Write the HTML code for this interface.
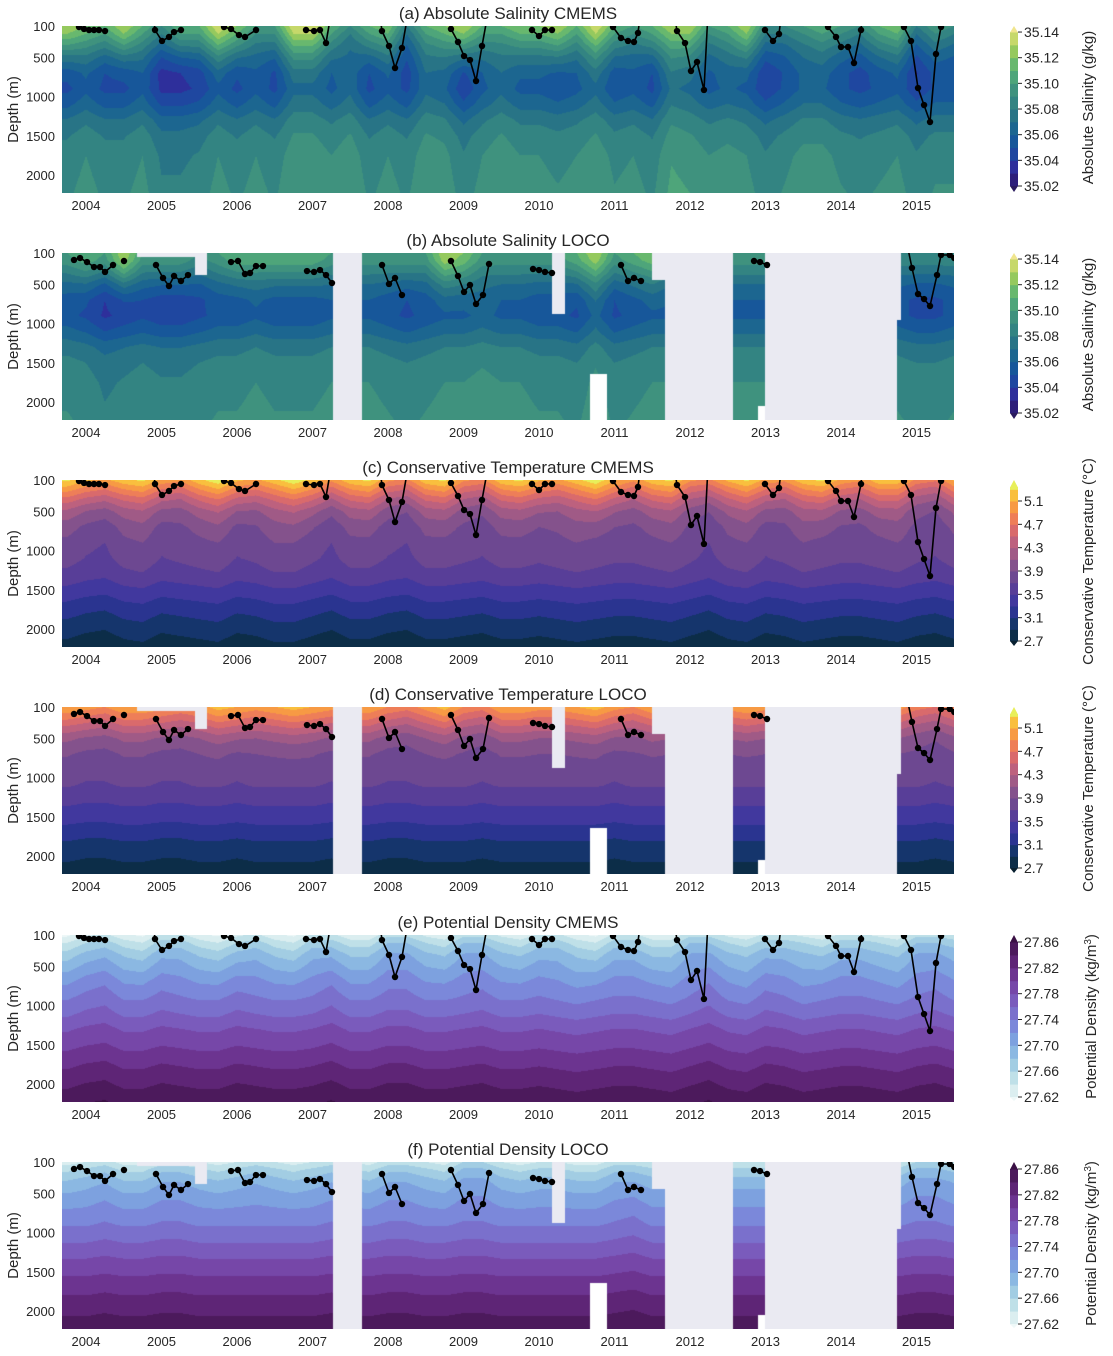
<!DOCTYPE html>
<html><head><meta charset="utf-8">
<style>
html,body{margin:0;padding:0;background:#fff;}
#wrap{position:relative;width:1113px;height:1356px;overflow:hidden;font-family:"Liberation Sans",sans-serif;}
canvas{position:absolute;}
svg{position:absolute;left:0;top:0;}
</style></head>
<body>
<div id="wrap">
<svg id="ov" width="1113" height="1356"></svg>
</div>
<script>
// ---------- data ----------
const depthLevels=[100,200,350,500,700,900,1100,1300,1500,1750,2000,2230];
const upperWeight=[1,1,0.8,0.5,0.2,0,0,0,0,0,0,0];
const deepWeight=[0,0,0.2,0.6,1,1,0.9,0.7,0.6,0.6,0.6,0.6];
const timeStart=2003.75, timeStep=0.25;
const yearTicks=[2004,2005,2006,2007,2008,2009,2010,2011,2012,2013,2014,2015];
const depthTicks=[100,500,1000,1500,2000];

const salProfileC=[35.11,35.10,35.085,35.072,35.06,35.057,35.066,35.078,35.085,35.09,35.092,35.094];
const salProfileL=[35.10,35.095,35.082,35.07,35.06,35.058,35.068,35.08,35.086,35.09,35.092,35.094];
const salUpperC=[0.02,0.01,0,0.02, 0,-0.02,0,0, 0.03,0.01,-0.01,-0.01, 0.03,0.03,0,-0.02, 0,0.01,-0.03,0, 0.01,0.02,0,0, 0.01,0.01,0.02,0, 0.03,0,-0.01,0, 0.02,0.02,-0.01,0, 0.02,-0.02,-0.02,-0.01, 0,-0.01,-0.02,0, 0.01,-0.03,-0.01,-0.02];
const salDeepC=[-0.01,0,-0.01,-0.01, 0,-0.02,-0.02,-0.015, 0,-0.01,0,-0.01, 0.01,0.01,0,0.01, -0.01,0,-0.01,0.01, 0.005,-0.015,0,0.01, 0,0,-0.005,0, 0.01,-0.005,0,-0.01, 0.015,0.01,0,0.005, 0,-0.015,-0.005,0.005, 0.005,-0.005,-0.01,-0.005, 0,-0.015,-0.005,-0.005];
const salUpperL=[0,0.01,0,0.03, 0,0,0,-0.01, 0,0.01,0.01,0.01, 0.01,0.01,0,0, 0,0,0,0, 0.03,0.02,0,0, 0,0,0,0.01, 0.03,0,0.01,0.02, 0,0,0,0, 0,0,0,0, 0,0,0,0, -0.01,-0.01,-0.01,-0.01];
const salDeepL=[-0.005,-0.01,-0.02,-0.015, -0.01,-0.015,-0.015,-0.01, -0.005,-0.005,0,-0.005, -0.005,-0.005,0,0, 0,-0.005,-0.01,-0.005, 0,0,0.005,0, 0,-0.005,-0.005,-0.01, 0.005,-0.01,-0.005,0, 0,0,0,0, 0,0,0,0, 0,0,0,0, -0.005,-0.01,-0.01,-0.005];

const tempProfileC=[5.15,4.85,4.45,4.15,3.95,3.85,3.78,3.65,3.45,3.2,3.0,2.82];
const tempProfileL=[5.0,4.75,4.4,4.1,3.9,3.82,3.72,3.55,3.4,3.15,2.95,2.8];
const tempUpperC=[0.2,0,-0.1,0.1, 0.2,-0.1,-0.2,0.1, 0.3,0,-0.1,0.1, 0.3,0.1,-0.2,0.1, 0.2,-0.2,-0.3,0.1, 0.2,-0.2,-0.3,0.1, 0.2,0,-0.1,0.1, 0.3,0,-0.2,0.1, 0.2,-0.2,-0.3,0, 0.2,-0.1,-0.2,0.1, 0.2,-0.1,-0.2,0.1, 0.1,-0.3,-0.4,0];
const tempDeepC=[0,-0.1,-0.15,0, 0.05,-0.1,-0.05,0, 0.05,-0.1,-0.05,0.05, 0.05,-0.05,-0.15,0, 0,-0.1,-0.15,0, 0,-0.05,-0.1,0, 0,-0.05,0,0.05, 0,-0.05,-0.05,0, 0.05,-0.05,-0.15,0, 0.05,-0.1,-0.05,0.05, 0,-0.05,-0.05,0, 0.05,-0.05,-0.1,0];
const tempUpperL=[0.1,0,-0.1,0.1, 0.1,0,-0.1,0, 0.2,0.1,0,0.1, 0.2,0.1,0,0.1, 0.1,-0.1,-0.2,0, 0.2,-0.1,-0.2,0.1, 0.1,0,0,0.1, 0.2,0,-0.1,0.1, 0,0,0,0, 0.1,0,-0.1,0, 0,0,0,0, 0,-0.2,-0.3,-0.1];
const tempDeepL=[0,-0.05,-0.05,0, 0,-0.05,-0.05,0, 0,-0.05,0,0, 0,0,-0.05,0, 0,-0.05,-0.05,0, 0,0,-0.05,0, 0,0,0,0, 0,-0.05,0,0, 0,0,0,0, 0,0,0,0, 0,0,0,0, 0,0,-0.05,0];

const densProfileC=[27.635,27.66,27.685,27.70,27.72,27.737,27.755,27.777,27.793,27.815,27.835,27.853];
const densProfileL=[27.64,27.665,27.69,27.705,27.722,27.738,27.757,27.777,27.795,27.816,27.835,27.852];
const densUpperC=[-0.02,0,0.01,-0.01, -0.02,0.01,0.01,-0.01, -0.02,0,0.01,-0.01, -0.02,0.01,0.01,-0.01, -0.01,0.02,0.02,0, -0.01,0.02,0.02,0, -0.01,0.01,0.01,-0.01, -0.02,0.01,0.01,-0.01, -0.01,0.02,0.02,0, -0.01,0.01,0.01,0, -0.01,0.01,0.01,0, -0.01,0.02,0.02,0.01];
const densDeepC=[0,0.01,0.015,0, 0,0.01,0.005,0, 0,0.01,0.005,0, 0,0.005,0.015,0, 0,0.01,0.01,0, 0,0.005,0.01,0, 0,0.005,0,-0.005, 0,0.005,0.005,0, -0.005,0.005,0.015,0, -0.005,0.01,0.005,-0.005, 0,0.005,0.005,0, -0.005,0.005,0.01,0];
const densUpperL=[-0.01,0,0.01,-0.01, -0.01,0.01,0.01,0, -0.01,0,0.01,0, -0.01,0,0.01,0, -0.01,0.01,0.01,0, -0.01,0.02,0.02,0, -0.01,0,0,-0.01, -0.01,0.01,0.01,0, 0,0,0,0, 0,0,0,0, 0,0,0,0, 0,0.02,0.02,0.01];
const densDeepL=[0,0,0.005,0, 0,0.005,0.005,0, 0,0,0,0, 0,0,0.005,0, 0,0.005,0.005,0, 0,0.005,0.005,0, 0,0,0,0, 0,0.005,0.01,0, 0,0,0,0, 0,0,0,0, 0,0,0,0, 0,0.005,0.005,0];

// mixed layer depth (NaN = break, negative = above plotted range)
const mldTimeC=[2003.907,2003.974,2004.040,2004.106,2004.172,2004.252,NaN,
 2004.874,2004.914,2005.007,2005.099,2005.166,2005.258,NaN,
 2005.828,2005.921,2006.026,2006.106,2006.252,NaN,
 2006.914,2007.020,2007.099,2007.179,2007.27,NaN,
 2007.87,2007.92,2008.013,2008.093,2008.185,2008.29,NaN,
 2008.76,2008.834,2008.927,2009.007,2009.086,2009.166,2009.245,2009.35,NaN,
 2009.907,2010.0,2010.079,2010.172,NaN,
 2010.91,2010.98,2011.086,2011.179,2011.258,2011.311,2011.36,NaN,
 2011.77,2011.828,2011.934,2012.013,2012.093,2012.185,2012.25,NaN,
 2012.993,2013.099,2013.179,2013.23,NaN,
 2013.828,2013.934,2014.0,2014.093,2014.172,2014.265,2014.29,NaN,
 2014.78,2014.834,2014.927,2015.02,2015.1,2015.179,2015.258,2015.325,2015.36];
const mldDepthC=[113,138,151,151,151,164,NaN,
 -200,151,291,240,177,151,NaN,
 113,138,215,240,151,NaN,
 151,164,151,317,-200,NaN,
 -200,164,355,636,380,-200,NaN,
 -200,138,304,483,534,802,355,-200,NaN,
 151,228,151,151,NaN,
 -200,113,253,291,304,189,-200,NaN,
 -200,164,317,674,559,916,-300,NaN,
 151,291,202,-200,NaN,
 113,240,368,368,572,151,-100,NaN,
 -200,113,291,891,1108,1325,457,113,-200];
const mldTimeL=[2003.841,2003.921,2004.013,2004.106,2004.185,2004.252,2004.358,NaN,
 2004.503,NaN,
 2004.927,2005.02,2005.099,2005.166,2005.258,2005.351,NaN,
 2005.921,2006.013,2006.106,2006.172,2006.252,2006.344,NaN,
 2006.927,2007.02,2007.099,2007.179,2007.258,NaN,
 2007.921,2008.013,2008.093,2008.185,NaN,
 2008.834,2008.927,2009.007,2009.086,2009.166,2009.258,2009.338,NaN,
 2009.921,2010.0,2010.079,2010.172,NaN,
 2011.086,2011.179,2011.258,2011.351,NaN,
 2012.848,2012.927,2013.02,NaN,
 2014.834,2014.94,2015.02,2015.1,2015.179,2015.272,2015.325,2015.44,2015.5];
const mldDepthL=[189,164,215,279,279,342,253,NaN,
 202,NaN,
 253,419,521,393,457,381,NaN,
 215,202,368,355,266,266,NaN,
 330,342,317,381,483,NaN,
 253,495,419,636,NaN,
 202,393,597,508,750,636,240,NaN,
 304,317,342,355,NaN,
 253,457,419,457,NaN,
 202,215,253,NaN,
 -200,291,623,687,776,381,125,125,164];

// LOCO data gaps
const gapStart=[2007.27,2005.45,2004.68,2010.17,2010.68,2011.5,2011.67,2012.9,2013.0,2014.74];
const gapEnd  =[2007.66,2005.6,2005.45,2010.34,2010.9,2011.67,2012.57,2013.0,2014.74,2014.8];
const gapTop  =[0,0,0,0,1640,0,0,2050,0,0];
const gapBot  =[9999,380,150,880,9999,440,9999,9999,9999,950];
const gapKind =['L','L','L','L','W','L','L','W','L','L'];

// colour maps (under, bands..., over)
const salLevels=[35.02,35.03,35.04,35.05,35.06,35.07,35.08,35.09,35.10,35.11,35.12,35.13,35.14];
const salColors=['#2a1a5e','#2d1e7a','#2e2f9b','#1f47a0','#17579a','#1c6690','#287486','#338482','#3f927e','#4ea57a','#68b86e','#95c95e','#c6d86a','#f0e58e'];
const tempLevels=[2.7,2.9,3.1,3.3,3.5,3.7,3.9,4.1,4.3,4.5,4.7,4.9,5.1,5.3];
const tempColors=['#082030','#0c2d48','#15356c','#2a3490','#41389e','#583e98','#6d4891','#84528c','#a05a86','#bd617e','#d96a6c','#ee7e58','#f79a44','#f9bf3e','#e8ef5a'];
const densLevels=[27.62,27.64,27.66,27.68,27.70,27.72,27.74,27.76,27.78,27.80,27.82,27.84,27.86];
const densColors=['#eef8f8','#dbeef0','#bfe0e8','#a2cde3','#8bb8e2','#7da1df','#7b88da','#7a70cc','#7a5bbc','#7647a8','#6c3490','#5e2576','#4c1a5c','#3a1044'];

const salTicks=['35.02','35.04','35.06','35.08','35.10','35.12','35.14'];
const tempTicks=['2.7','3.1','3.5','3.9','4.3','4.7','5.1'];
const densTicks=['27.62','27.66','27.70','27.74','27.78','27.82','27.86'];

// ---------- geometry ----------
const PX0=62, PW=892, PH=167;
function xOf(t){return 86+(t-2004)*75.5;}
function yOf(d,top){return top+(d-100)*0.0784;}
function interpArr(arr,x){let f=(x-timeStart)/timeStep;if(f<=0)return arr[0];if(f>=arr.length-1)return arr[arr.length-1];let i=Math.floor(f),r=f-i;return arr[i]*(1-r)+arr[i+1]*r;}
function interpD(arr,d){if(d<=depthLevels[0])return arr[0];for(let i=0;i<depthLevels.length-1;i++){if(d<=depthLevels[i+1]){let r=(d-depthLevels[i])/(depthLevels[i+1]-depthLevels[i]);return arr[i]*(1-r)+arr[i+1]*r;}}return arr[arr.length-1];}
function hex(c){return [parseInt(c.slice(1,3),16),parseInt(c.slice(3,5),16),parseInt(c.slice(5,7),16)];}

const panels=[
 {top:26,title:'(a) Absolute Salinity CMEMS',prof:salProfileC,up:salUpperC,dp:salDeepC,lev:salLevels,col:salColors,ticks:salTicks,cbBot:160,cbScale:1283,cbLabel:'Absolute Salinity (g/kg)',mt:mldTimeC,md:mldDepthC,gaps:false},
 {top:253,title:'(b) Absolute Salinity LOCO',prof:salProfileL,up:salUpperL,dp:salDeepL,lev:salLevels,col:salColors,ticks:salTicks,cbBot:160,cbScale:1283,cbLabel:'Absolute Salinity (g/kg)',mt:mldTimeL,md:mldDepthL,gaps:true},
 {top:480,title:'(c) Conservative Temperature CMEMS',prof:tempProfileC,up:tempUpperC,dp:tempDeepC,lev:tempLevels,col:tempColors,ticks:tempTicks,cbBot:161,cbScale:58.33,cbLabel:'Conservative Temperature (°C)',mt:mldTimeC,md:mldDepthC,gaps:false},
 {top:707,title:'(d) Conservative Temperature LOCO',prof:tempProfileL,up:tempUpperL,dp:tempDeepL,lev:tempLevels,col:tempColors,ticks:tempTicks,cbBot:161,cbScale:58.33,cbLabel:'Conservative Temperature (°C)',mt:mldTimeL,md:mldDepthL,gaps:true},
 {top:935,title:'(e) Potential Density CMEMS',prof:densProfileC,up:densUpperC,dp:densDeepC,lev:densLevels,col:densColors,ticks:densTicks,cbBot:162,cbScale:645.8,cbLabel:'Potential Density (kg/m',mt:mldTimeC,md:mldDepthC,gaps:false},
 {top:1162,title:'(f) Potential Density LOCO',prof:densProfileL,up:densUpperL,dp:densDeepL,lev:densLevels,col:densColors,ticks:densTicks,cbBot:162,cbScale:645.8,cbLabel:'Potential Density (kg/m',mt:mldTimeL,md:mldDepthL,gaps:true}
];

const wrap=document.getElementById('wrap');
const svg=document.getElementById('ov');
const NS='http://www.w3.org/2000/svg';
function mk(tag,attrs,parent){const e=document.createElementNS(NS,tag);for(const k in attrs)e.setAttribute(k,attrs[k]);(parent||svg).appendChild(e);return e;}

panels.forEach((p,pi)=>{
  const letter='abcdef'[pi];
  const cv=document.createElement('canvas');
  cv.width=PW;cv.height=PH;cv.style.left=PX0+'px';cv.style.top=p.top+'px';
  
  
  wrap.insertBefore(cv,svg);
  const ctx=cv.getContext('2d');
  const img=ctx.createImageData(PW,PH);
  const rgb=p.col.map(hex);
  const lav=hex('#eaeaf2'), wht=[255,255,255];
  const rows=[];
  for(let py=0;py<PH;py++){const d=100+(py+0.5)/0.0784;rows.push([d,interpD(p.prof,d),interpD(upperWeight,d),interpD(deepWeight,d)]);}
  for(let px=0;px<PW;px++){
    const t=2004+(PX0+px+0.5-86)/75.5;
    const u=interpArr(p.up,t), dd=interpArr(p.dp,t);
    for(let py=0;py<PH;py++){
      const r=rows[py];let c=null;
      if(p.gaps){for(let g=0;g<gapStart.length;g++){if(t>=gapStart[g]&&t<gapEnd[g]&&r[0]>=gapTop[g]&&r[0]<gapBot[g]){c=gapKind[g]==='W'?wht:lav;break;}}}
      if(!c){const v=r[1]+r[2]*u+r[3]*dd;let k=0;while(k<p.lev.length&&v>=p.lev[k])k++;c=rgb[k];}
      const o=(py*PW+px)*4;img.data[o]=c[0];img.data[o+1]=c[1];img.data[o+2]=c[2];img.data[o+3]=255;
    }
  }
  ctx.putImageData(img,0,0);

  const ti=mk('text',{x:PX0+PW/2,y:p.top-7,'text-anchor':'middle','font-size':17,fill:'#262626'});
  ti.textContent=p.title;
  
  
  const cy=p.top+PH/2;
  const yl=mk('text',{x:0,y:0,transform:`translate(18,${cy}) rotate(-90)`,'text-anchor':'middle','font-size':15,fill:'#262626'});
  yl.textContent='Depth (m)';
  
  
  depthTicks.forEach(dv=>{
    const t=mk('text',{x:55,y:yOf(dv,p.top)+5,'text-anchor':'end','font-size':13,fill:'#262626'});
    t.textContent=dv;
    
    
  });
  yearTicks.forEach(yr=>{
    const t=mk('text',{x:xOf(yr),y:p.top+PH+17,'text-anchor':'middle','font-size':13,fill:'#262626'});
    t.textContent=yr;
    
    
  });
  const cp=mk('clipPath',{id:'clip'+letter});
  mk('rect',{x:PX0,y:p.top,width:PW,height:PH},cp);
  const g=mk('g',{'clip-path':`url(#clip${letter})`});
  
  
  let seg=[];
  const flush=()=>{
    if(seg.length>1){const pl=mk('polyline',{points:seg.map(q=>q.join(',')).join(' '),fill:'none',stroke:'#000','stroke-width':1.6},g);
      
      }
    seg=[];
  };
  for(let i=0;i<p.mt.length;i++){
    if(isNaN(p.mt[i])){flush();continue;}
    seg.push([xOf(p.mt[i]).toFixed(1),yOf(p.md[i],p.top).toFixed(1)]);
  }
  flush();
  for(let i=0;i<p.mt.length;i++){
    if(isNaN(p.mt[i])||p.md[i]<0)continue;
    const c=mk('circle',{cx:xOf(p.mt[i]),cy:yOf(p.md[i],p.top),r:3.2,fill:'#000'},g);
    
    
  }
  const cb=mk('g',{});
  
  
  const cx0=1010,cw=8;
  const yBot=p.top+p.cbBot;
  const yv=v=>yBot-(v-p.lev[0])*p.cbScale;
  const topLim=p.top+2, botLim=p.top+PH-1;
  for(let k=0;k<p.lev.length-1;k++){
    let y1=yv(p.lev[k+1]),y0=yv(p.lev[k]);
    y1=Math.max(y1,topLim);
    if(y0<=topLim)continue;
    mk('rect',{x:cx0,y:y1,width:cw,height:y0-y1+0.5,fill:p.col[k+1]},cb);
  }
  const yTopBand=Math.max(yv(p.lev[p.lev.length-1]),topLim);
  if(yTopBand>topLim+1) mk('rect',{x:cx0,y:topLim+5,width:cw,height:yTopBand-topLim-5+0.5,fill:p.col[p.col.length-1]},cb);
  mk('polygon',{points:`${cx0},${Math.min(yTopBand,topLim+5)+0.5} ${cx0+cw},${Math.min(yTopBand,topLim+5)+0.5} ${cx0+cw/2},${p.top}`,fill:p.col[p.col.length-1]},cb);
  mk('polygon',{points:`${cx0},${yBot} ${cx0+cw},${yBot} ${cx0+cw/2},${Math.min(yBot+6,botLim)}`,fill:p.col[0]},cb);
  p.ticks.forEach(tv=>{
    const y=yv(parseFloat(tv));
    mk('line',{x1:cx0+cw,x2:cx0+cw+4,y1:y,y2:y,stroke:'#262626','stroke-width':1},cb);
    const t=mk('text',{x:cx0+cw+6,y:y+5,'font-size':14,fill:'#262626'},cb);
    t.textContent=tv;
    
    
  });
  const lbx=pi>=4?1096:1093;
  const lb=mk('text',{x:0,y:0,transform:`translate(${lbx},${p.top+PH/2-2}) rotate(-90)`,'text-anchor':'middle','font-size':15,fill:'#262626'});
  lb.textContent=p.cbLabel;
  if(pi>=4){const s=mk('tspan',{'baseline-shift':'super','font-size':10},lb);s.textContent='3';const s2=mk('tspan',{},lb);s2.textContent=')';}
  
  
});
</script>
</body></html>
